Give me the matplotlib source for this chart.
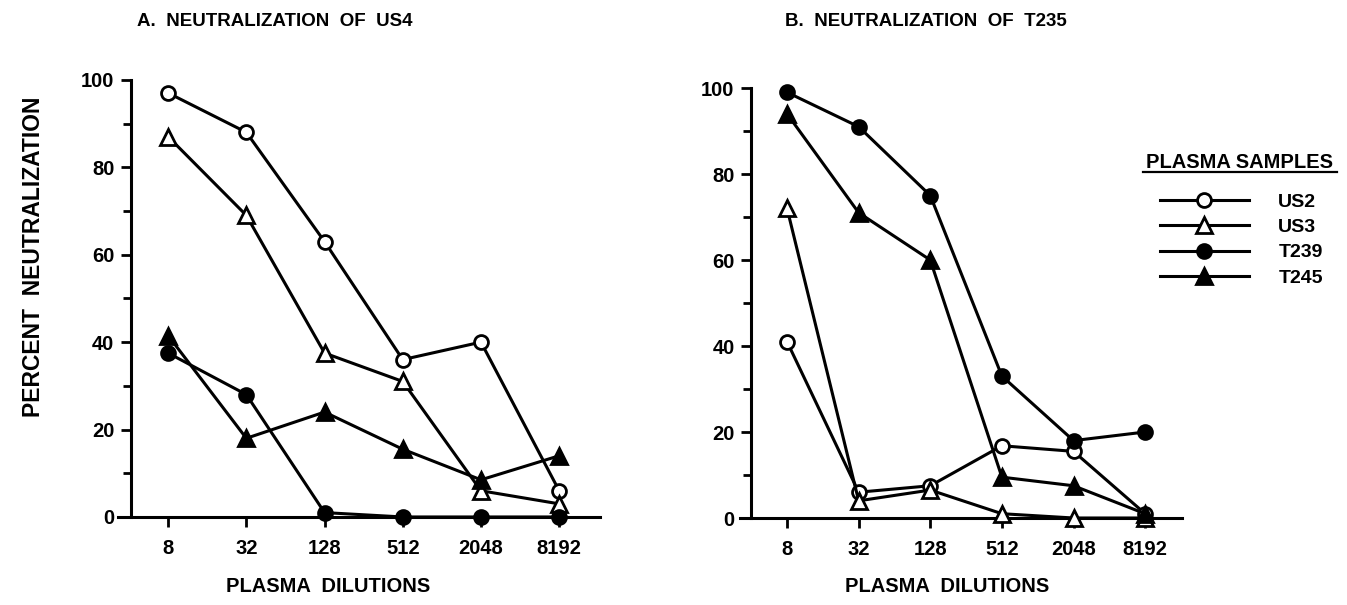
import matplotlib
matplotlib.use("Agg")
import matplotlib.pyplot as plt
from matplotlib.lines import Line2D
from matplotlib.ticker import FixedLocator, NullFormatter

plt.rcParams['font.family'] = ['Liberation Sans', 'DejaVu Sans']
plt.rcParams['font.weight'] = 'bold'

dilutions = [8, 32, 128, 512, 2048, 8192]
dilution_labels = ['8', '32', '128', '512', '2048', '8192']
samples = ['US2', 'US3', 'T239', 'T245']

# panel A: neutralization of US4
us4_us2 = [97, 88, 63, 36, 40, 6]
us4_us3 = [87, 69, 37.5, 31, 6, 3]
us4_t239 = [37.5, 28, 1, 0, 0, 0]
us4_t245 = [41.5, 18, 24, 15.5, 8.5, 14]

# panel B: neutralization of T235
t235_us2 = [41, 6, 7.5, 16.8, 15.5, 1]
t235_us3 = [72, 4, 6.5, 1, 0, 0]
t235_t239 = [99, 91, 75, 33, 18, 20]
t235_t245 = [94, 71, 60, 9.5, 7.5, 1]

styles = {
    'US2': dict(marker='o', markersize=10, markerfacecolor='white'),
    'US3': dict(marker='^', markersize=12, markerfacecolor='white'),
    'T239': dict(marker='o', markersize=10, markerfacecolor='black'),
    'T245': dict(marker='^', markersize=12, markerfacecolor='black'),
}


def draw_panel(ax, series, xlim, yaxis_x, title, title_x, xlabel_x):
    for name, vals in zip(samples, series):
        ax.plot(dilutions, vals, color='black', lw=2.2, markeredgecolor='black',
                markeredgewidth=2.0, clip_on=False, label=name, zorder=3,
                **styles[name])
    ax.set_xscale('log', base=2)
    ax.set_xlim(*xlim)
    ax.set_ylim(0, 100)
    ax.spines['top'].set_visible(False)
    ax.spines['right'].set_visible(False)
    ax.spines['left'].set_position(('data', yaxis_x))
    ax.spines['left'].set_linewidth(2.2)
    ax.spines['bottom'].set_linewidth(2.2)
    ax.xaxis.set_major_locator(FixedLocator(dilutions))
    ax.xaxis.set_minor_locator(FixedLocator([]))
    ax.set_xticklabels(dilution_labels)
    ax.yaxis.set_major_locator(FixedLocator([0, 20, 40, 60, 80, 100]))
    ax.yaxis.set_minor_locator(FixedLocator([10, 30, 50, 70, 90]))
    ax.yaxis.set_minor_formatter(NullFormatter())
    ax.tick_params(axis='both', which='major', direction='out', length=7,
                   width=2, labelsize=14.5)
    ax.tick_params(axis='x', pad=9)
    ax.tick_params(axis='y', pad=5)
    ax.tick_params(axis='y', which='minor', direction='out', length=6, width=2)
    for lab in ax.get_xticklabels() + ax.get_yticklabels():
        lab.set_fontweight('bold')
    ax.set_xlabel('PLASMA  DILUTIONS', fontsize=14.5, fontweight='bold')
    ax.xaxis.set_label_coords(xlabel_x, -0.138)
    ax.figure.text(title_x, 0.965, title, ha='center', va='center',
                   fontsize=13.5, fontweight='bold')


fig = plt.figure(figsize=(13.47, 6.05), dpi=100)
ax1 = fig.add_axes([0.0876, 0.1455, 0.3578, 0.7225])
ax2 = fig.add_axes([0.5494, 0.1438, 0.3281, 0.7107])

draw_panel(ax1, [us4_us2, us4_us3, us4_t239, us4_t245], (3.29, 16880), 4.14,
           'A.  NEUTRALIZATION  OF  US4', 0.204, 0.436)
draw_panel(ax2, [t235_us2, t235_us3, t235_t239, t235_t245], (3.22, 16720), 4.0,
           'B.  NEUTRALIZATION  OF  T235', 0.687, 0.468)

fig.text(0.025, 0.575, 'PERCENT  NEUTRALIZATION', rotation=90, ha='center',
         va='center', fontsize=16.5, fontweight='bold')

# legend
fig.text(0.9205, 0.732, 'PLASMA SAMPLES', ha='center', va='center',
         fontsize=14.5, fontweight='bold')
fig.add_artist(Line2D([0.8486, 0.9926], [0.7157, 0.7157], color='black', lw=1.6))
handles, labels = ax1.get_legend_handles_labels()
leg = fig.legend(handles, labels, loc='upper left', bbox_to_anchor=(0.848, 0.710),
                 frameon=False, handlelength=4.6, handletextpad=1.5,
                 labelspacing=0.40, fontsize=14)
for t in leg.get_texts():
    t.set_fontweight('bold')

fig.savefig('out.png', dpi=100)
